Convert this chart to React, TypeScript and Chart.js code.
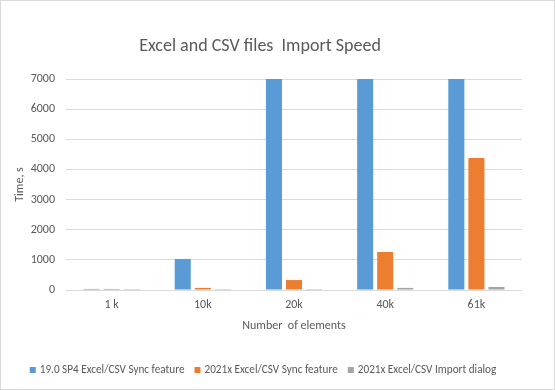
import React, { useEffect, useRef } from "react";
import { Chart, registerables } from "chart.js";

Chart.register(...registerables);

const categories = ["1 k", "10k", "20k", "40k", "61k"];
const seriesLabels = [
  "19.0 SP4 Excel/CSV Sync feature",
  "2021x Excel/CSV Sync feature",
  "2021x Excel/CSV Import dialog",
];
const sync190 = [35, 1030, 7000, 7000, 7000];
const sync2021 = [35, 70, 330, 1260, 4380];
const import2021 = [30, 30, 30, 70, 100];
const seriesColors = ["#5B9BD5", "#ED7D31", "#A5A5A5"];
const titleText = "Excel and CSV files  Import Speed";
const xTitle = "Number  of elements";
const yTitle = "Time, s";

const FONT = "Carlito, Lato, 'Open Sans', sans-serif";
const TEXT = "#595959";

const decor = {
  id: "decor",
  afterDraw(chart: any) {
    const ctx = chart.ctx as CanvasRenderingContext2D;
    const area = chart.chartArea;
    ctx.save();
    // border
    ctx.strokeStyle = "#D9D9D9";
    ctx.lineWidth = 1;
    ctx.strokeRect(0.5, 0.5, chart.width - 1, chart.height - 1);
    // title
    ctx.fillStyle = TEXT;
    ctx.textAlign = "center";
    ctx.textBaseline = "middle";
    ctx.font = `18px ${FONT}`;
    ctx.fillText(titleText, 260, 46);
    // x title
    ctx.font = `12px ${FONT}`;
    ctx.fillText(xTitle, (area.left + area.right) / 2, 326);
    // y title
    ctx.save();
    ctx.translate(20, (area.top + area.bottom) / 2);
    ctx.rotate(-Math.PI / 2);
    ctx.fillText(yTitle, 0, 0);
    ctx.restore();
    // legend
    ctx.font = `11.2px ${FONT}`;
    const box = 6;
    const gapBox = 4;
    const gapItem = 10;
    const widths = seriesLabels.map((l) => ctx.measureText(l).width);
    const total =
      widths.reduce((a, b) => a + b, 0) +
      seriesLabels.length * (box + gapBox) +
      (seriesLabels.length - 1) * gapItem;
    let x = 263 - total / 2;
    const y = 370;
    ctx.textAlign = "left";
    seriesLabels.forEach((l, i) => {
      ctx.fillStyle = seriesColors[i];
      ctx.fillRect(x, y - box / 2, box, box);
      x += box + gapBox;
      ctx.fillStyle = TEXT;
      ctx.fillText(l, x, y);
      x += widths[i] + gapItem;
    });
    ctx.restore();
  },
};

export default function App() {
  const ref = useRef<HTMLCanvasElement>(null);
  useEffect(() => {
    document.body.style.margin = "0";
    const chart = new Chart(ref.current!, {
      type: "bar",
      data: {
        labels: categories,
        datasets: [sync190, sync2021, import2021].map((d, i) => ({
          label: seriesLabels[i],
          data: d,
          backgroundColor: seriesColors[i],
          categoryPercentage: 0.66,
          barPercentage: 0.8,
        })),
      },
      options: {
        animation: false,
        responsive: false,
        layout: { padding: { left: 0, top: 79, right: 33, bottom: 0 } },
        plugins: {
          legend: { display: false },
          title: { display: false },
          tooltip: { enabled: false },
        },
        scales: {
          x: {
            grid: { display: false },
            border: { display: false },
            ticks: { color: TEXT, font: { family: FONT, size: 12 }, padding: 0 },
            afterFit: (s: any) => {
              s.height = 100;
            },
          },
          y: {
            min: 0,
            max: 7000,
            ticks: {
              stepSize: 1000,
              color: TEXT,
              font: { family: FONT, size: 12 },
              padding: 11,
              callback: (v: any) => String(v),
            },
            grid: { color: "#D9D9D9", drawTicks: false },
            border: { display: false },
            afterFit: (s: any) => {
              s.width = 66;
            },
          },
        },
      },
      plugins: [decor],
    });
    return () => chart.destroy();
  }, []);
  return <canvas ref={ref} width={555} height={390} style={{ display: "block" }} />;
}
